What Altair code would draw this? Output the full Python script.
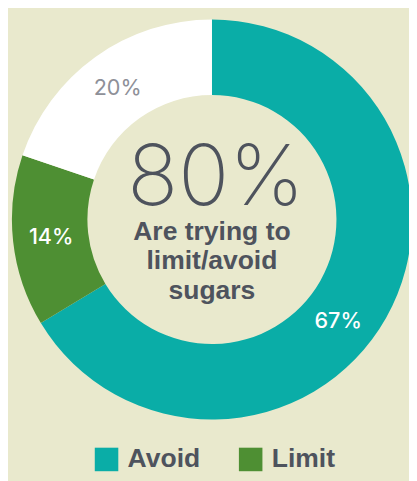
import altair as alt
import pandas as pd

# ---- data ----
categories = ["Avoid", "Limit", "Other"]
shares = [67, 14, 20]
share_labels = ["67%", "14%", "20%"]
slice_order = [0, 1, 2]
slice_colors = ["#0aada7", "#4e8f33", "#ffffff"]
legend_items = ["Avoid", "Limit"]
headline = "80%"
subtitle = ["Are trying to", "limit/avoid", "sugars"]

TOTAL = sum(shares)
df = pd.DataFrame({"category": categories, "share": shares,
                   "label": share_labels, "ord": slice_order})

BG = "#e9e9cd"
DARK = "#4e535d"
CX, CY = 208, 211
R_OUT, R_IN = 204, 127
R_LAB = 165

theta_scale = alt.Scale(domain=[0, TOTAL])

base = alt.Chart(df).transform_stack(
    stack="share", as_=["s0", "s1"], groupby=[],
    sort=[alt.SortField("ord", order="ascending")]
).transform_calculate(mid="(datum.s0 + datum.s1) / 2")

arcs = base.mark_arc(radius=R_OUT, radius2=R_IN, strokeWidth=0).encode(
    x=alt.value(CX), y=alt.value(CY),
    theta=alt.Theta("s0:Q", scale=theta_scale),
    theta2="s1:Q",
    color=alt.Color("category:N",
                    scale=alt.Scale(domain=categories, range=slice_colors),
                    legend=alt.Legend(values=legend_items, title=None,
                                      orient="none", direction="horizontal",
                                      legendX=87, legendY=442,
                                      symbolType="square", symbolSize=576,
                                      symbolStrokeWidth=0, symbolOpacity=1,
                                      labelFont="Liberation Sans",
                                      labelFontWeight="bold", labelFontSize=27,
                                      labelColor=DARK, labelOffset=8,
                                      columnPadding=38, padding=0)),
)

def slice_label(cat, color, weight, dx=0, dy=0):
    return base.transform_filter(alt.datum.category == cat).mark_text(
        radius=R_LAB, font="Inter", fontSize=22, fontWeight=weight,
        color=color, dx=dx, dy=dy, baseline="middle", align="center"
    ).encode(
        x=alt.value(CX), y=alt.value(CY),
        theta=alt.Theta("mid:Q", scale=theta_scale),
        text="label:N",
    )

lab_avoid = slice_label("Avoid", "#ffffff", 500, dx=-15, dy=23)
lab_limit = slice_label("Limit", "#ffffff", 500)
lab_other = slice_label("Other", "#8e9098", 400)

center_big = alt.Chart(pd.DataFrame({"t": [headline]})).mark_text(
    font="Inter", fontSize=86, fontWeight=200, color=DARK,
    align="center", baseline="alphabetic"
).encode(x=alt.value(212), y=alt.value(196), text="t:N")

center_sub = alt.Chart(pd.DataFrame({"t": [0]})).mark_text(
    font="Liberation Sans", fontSize=27, fontWeight="bold", color=DARK,
    align="center", baseline="alphabetic", lineHeight=30
).encode(x=alt.value(208), y=alt.value(232), text=alt.value(subtitle))

chart = alt.layer(arcs, lab_avoid, lab_limit, lab_other, center_big, center_sub).properties(
    width=409, height=473,
    autosize=alt.AutoSizeParams(type="none"),
    padding=0,
    background=BG,
).configure_view(stroke=None)

chart.save("out.html", embed_options={"renderer": "svg", "actions": False})
